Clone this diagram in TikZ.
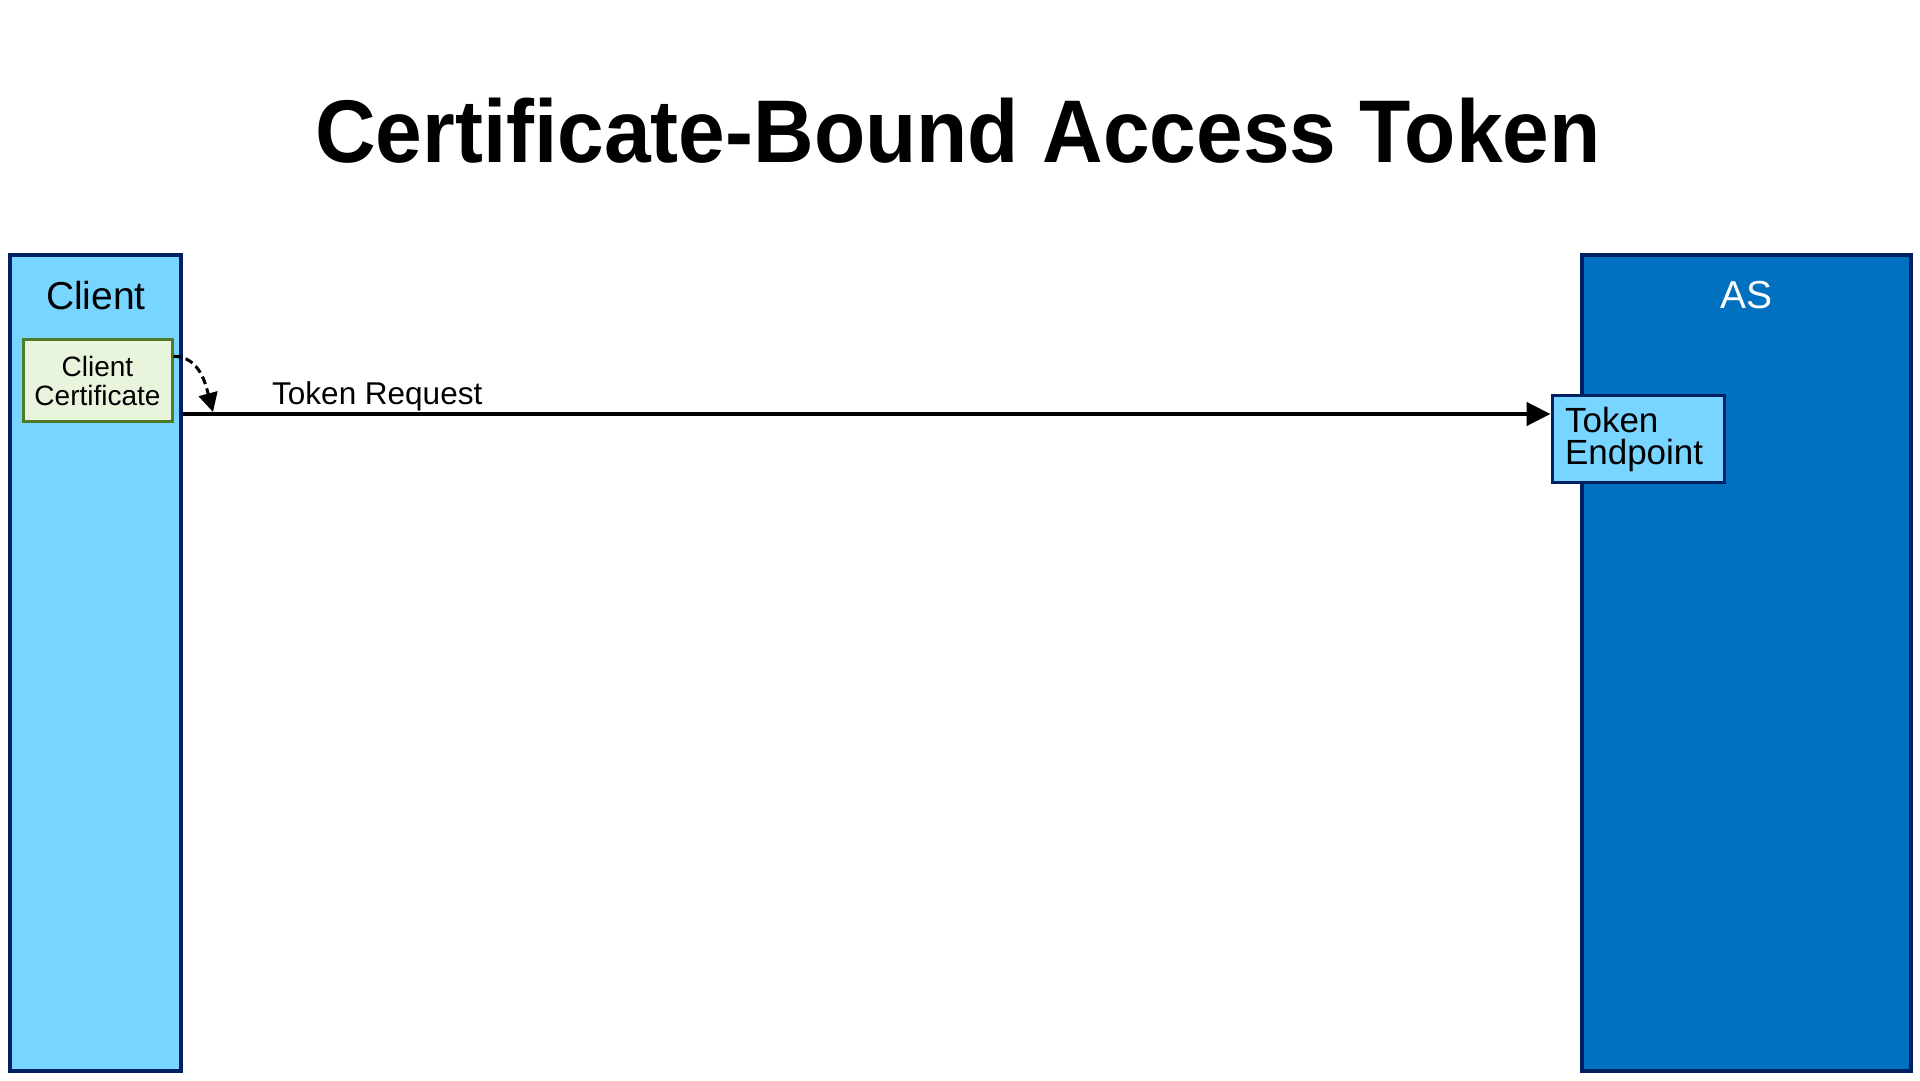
\documentclass[tikz,border=0pt]{standalone}
\usepackage{fontspec}
\setmainfont{Liberation Sans}
\newfontfamily\titlefont[FakeStretch=0.943]{Liberation Sans}
\usetikzlibrary{arrows.meta}

\definecolor{clientblue}{HTML}{78D5FF}
\definecolor{asblue}{HTML}{0070C0}
\definecolor{navy}{HTML}{002060}
\definecolor{certgreen}{HTML}{4F7A28}
\definecolor{certfill}{HTML}{E8F5DC}

\begin{document}
\begin{tikzpicture} [x=1pt, y=1pt,
    lane/.style = {draw=navy,
    line width=3.5pt,
    minimum width=171pt,
    minimum height=816pt,
    inner sep=0pt},
    lanename/.style = {anchor=base,
    inner sep=0pt,
    font=\fontsize{39}{39}\selectfont},
    partbox/.style = {draw,
    line width=3pt,
    inner sep=0pt,
    font=\fontsize{28}{29}\selectfont}]

\useasboundingbox (0,0) rectangle (1920,1080);

\node (title) at (958,917) [anchor=base, inner sep=0pt, font=\titlefont\bfseries\fontsize{89}{89}\selectfont] {Certificate-Bound Access Token};

\node (client) at (95.5,417) [lane, fill=clientblue] {};
\node (as) at (1746.5,417) [lane, fill=asblue, minimum width=329pt] {};

\node (clientname) at (96,770) [lanename] {Client};
\node (asname) at (1746,771) [lanename, text=white] {AS};

\node (cert) at (97.5,699) [partbox, draw=certgreen, fill=certfill, minimum width=149pt, minimum height=82pt, align=center] {Client\\Certificate};
\node (tokenep) at (1638,640.5) [partbox, draw=navy, fill=clientblue, minimum width=172pt, minimum height=87pt, text width=146pt, align=left, font=\fontsize{35}{32}\selectfont] {Token\\Endpoint};

\coordinate (reqy) at (0,666);
\coordinate (certtip) at (213,668);

\draw [line width=4.5pt, -{Triangle[length=24pt,width=23pt]}] (client.east |- reqy) -- (tokenep.west |- reqy);
\node (reqlabel) at (272,675) [anchor=base west, inner sep=0pt, font=\fontsize{31.5}{31.5}\selectfont] {Token Request};

\draw [line width=3pt, dash pattern=on 8pt off 4.5pt, -{Triangle[length=19pt,width=19pt]}] (cert.18) to [out=0, in=105] (certtip);

\end{tikzpicture}
\end{document}
